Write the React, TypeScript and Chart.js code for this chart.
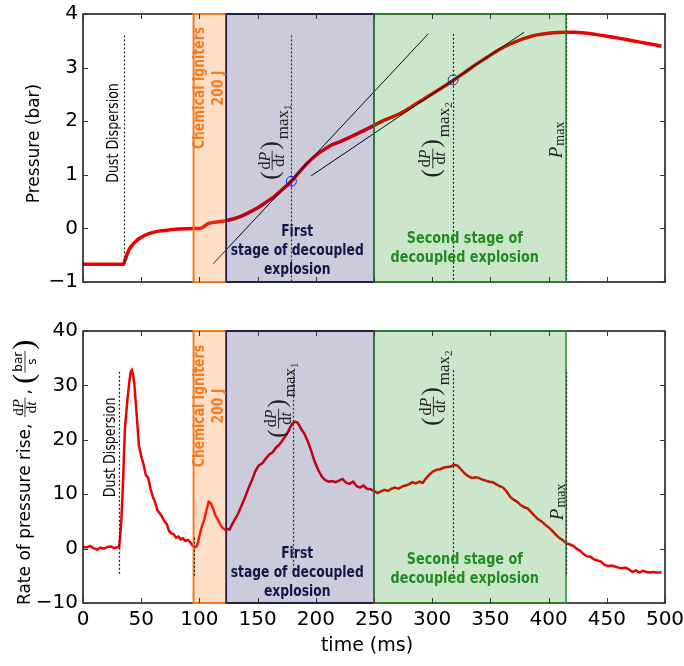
import React, { useEffect, useRef } from "react";
import { Chart, registerables } from "chart.js";

Chart.register(...registerables);

const SANS = "'DejaVu Sans', Verdana, sans-serif";
const SERIF = "'Liberation Serif', 'DejaVu Serif', serif";

// ---------- data ----------
const pressureTime = [
  0, 10, 20, 30, 34.7, 36, 39, 42, 45, 49, 55, 63, 70, 77, 85, 95, 100, 103, 106, 109,
  115, 122, 128, 135, 142, 149, 156, 164, 171, 179, 185, 192, 200, 207, 214, 222, 235, 248, 260, 272,
  283, 294, 306, 318, 328, 337, 347, 357, 368, 380, 390, 400, 408, 415, 422, 429, 440, 449, 460, 472,
  485, 497,
];
const pressureBar = [
  -0.67, -0.67, -0.67, -0.67, -0.67, -0.6, -0.42, -0.32, -0.25, -0.18, -0.11, -0.06, -0.04, -0.02, -0.01, 0.0, 0.0, 0.02, 0.07, 0.1,
  0.12, 0.14, 0.17, 0.22, 0.29, 0.37, 0.47, 0.59, 0.72, 0.88, 1.03, 1.2, 1.36, 1.47, 1.56, 1.63, 1.76, 1.9, 2.03, 2.14,
  2.28, 2.43, 2.59, 2.76, 2.91, 3.05, 3.19, 3.33, 3.45, 3.55, 3.61, 3.64, 3.655, 3.66, 3.66, 3.65, 3.62, 3.59, 3.55, 3.5,
  3.45, 3.4,
];

const rateTime = [
  0, 3, 6, 9, 12, 15, 18, 21, 24, 27,
  30, 31, 32, 33, 34, 36, 38, 40, 41, 42,
  43, 44, 46, 48, 50, 52, 54, 56, 58, 60,
  62, 64, 66, 68, 70, 72, 74, 76, 78, 80,
  82, 84, 86, 88, 90, 92, 94, 96, 98, 100,
  102, 104, 106, 108, 110, 112, 114, 116, 118, 120,
  122, 124, 126, 128, 130, 133, 136, 139, 142, 145,
  148, 151, 154, 157, 160, 163, 166, 169, 172, 175,
  178, 180, 182, 184, 186, 188, 190, 193, 196, 199,
  202, 205, 208, 211, 214, 217, 220, 223, 226, 229,
  232, 235, 238, 241, 244, 247, 250, 253, 256, 259,
  262, 265, 268, 271, 274, 277, 280, 283, 286, 289,
  292, 295, 298, 301, 304, 307, 310, 313, 316, 319,
  322, 325, 328, 331, 334, 337, 340, 343, 346, 349,
  352, 355, 358, 361, 364, 367, 370, 373, 376, 379,
  382, 385, 388, 391, 394, 397, 400, 403, 406, 409,
  412, 415, 418, 421, 424, 427, 430, 433, 436, 439,
  442, 445, 448, 451, 454, 457, 460, 463, 466, 469,
  472, 475, 478, 481, 484, 487, 490, 493, 497,
];
const rateValue = [
  0.3, 0.2, 0.5, 0.1, -0.2, 0.2, 0.0, 0.3, 0.4, 0.1,
  0.3, 0.2, 2.5, 5.5, 10, 22, 27, 31, 32.5, 32.8,
  32, 30.5, 25, 19, 17, 15.5, 13.5, 13, 11, 9.5,
  8.5, 7, 6.5, 5.8, 5, 4.5, 3.2, 2.8, 2.6, 2.0,
  2.2, 1.7, 1.9, 1.4, 1.6, 1.2, 0.6, 0.2, 0.5, 2.3,
  4, 5.2, 7, 8.6, 8.3, 7.2, 6, 5.3, 4.4, 3.8,
  3.5, 3.6, 3.5, 4.4, 5.2, 6.3, 7.8, 9.3, 11, 12.5,
  14.2, 15.3, 15.7, 16.5, 17.3, 17.7, 18.6, 19.2, 20.1, 21,
  22.3, 23, 23.3, 23.2, 22.6, 21.8, 21.2, 19.8, 18, 16,
  14.5, 13.3, 12.6, 12.3, 12.4, 12.2, 12.5, 12.8, 12.1, 11.9,
  12.3, 11.5, 11.2, 11.6, 11, 10.9, 10.6, 10.2, 10.5, 10.8,
  10.6, 11, 11.2, 11, 11.4, 11.6, 11.8, 12.2, 12, 12.3,
  12.1, 13, 13.7, 14.2, 14.5, 14.6, 14.9, 15.0, 15.1, 15.4,
  15.2, 14.5, 13.8, 13.3, 13.0, 13.1, 13.0, 12.7, 12.5, 12.3,
  12.2, 11.8, 11.5, 11.2, 10.5, 9.5, 9.0, 8.6, 8.0, 7.6,
  7.4, 6.7, 6.0, 5.4, 5.0, 4.4, 3.9, 3.3, 2.6, 2.0,
  1.6, 1.0, 0.8, 0.5, 0.0, -0.4, -1.0, -1.4, -1.5, -2.0,
  -2.2, -2.4, -3.0, -3.2, -3.1, -3.3, -3.5, -3.6, -3.5, -3.8,
  -4.3, -4.0, -4.4, -4.1, -4.3, -4.4, -4.3, -4.4, -4.4,
];

// tangent lines and max-rate points on the pressure curve
const tangent1Time = [111.8, 296.6];
const tangent1Bar = [-0.66, 3.63];
const tangent2Time = [196, 379];
const tangent2Bar = [0.98, 3.66];
const maxRateTime = [179, 318];
const maxRateBar = [0.88, 2.77];

// stages
const stageStart = [95, 123, 250];
const stageEnd = [123, 250, 415];
const stageFill = ["rgba(255,127,42,0.26)", "rgba(20,20,90,0.22)", "rgba(0,128,0,0.2)"];
const stageEdge = ["#f37a1f", "#16164a", "#2a8a2a"];
const stageEdgeWidth = [2, 1.5, 1.5];

// vertical marker lines
const topMarkerTime = [35, 179, 318, 415];
const topMarkerFrom = [3.6, 3.6, 3.63, 4];
const topMarkerTo = [-0.67, -1, -1, -1];
const topMarkerColor = ["#222", "#333", "#222", "#145214"];
const bottomMarkerTime = [31, 95, 180, 318, 415];
const bottomMarkerFrom = [32.5, 2, 32.5, 32.8, 32.5];
const bottomMarkerTo = [-5, -5, -5, -5, -5];
const bottomMarkerColor = ["#222", "#222", "#333", "#222", "#222"];

// ticks
const xTickValues = [0, 50, 100, 150, 200, 250, 300, 350, 400, 450, 500];
const pressureTickValues = [-1, 0, 1, 2, 3, 4];
const rateTickValues = [-10, 0, 10, 20, 30, 40];

// ---------- drawing helpers ----------
type Piece = [string, string];

function measurePieces(ctx: CanvasRenderingContext2D, pieces: Piece[]) {
  let w = 0;
  for (const [t, f] of pieces) {
    ctx.font = f;
    w += ctx.measureText(t).width;
  }
  return w;
}
function drawPieces(ctx: CanvasRenderingContext2D, pieces: Piece[], x: number, y: number) {
  for (const [t, f] of pieces) {
    ctx.font = f;
    ctx.fillText(t, x, y);
    x += ctx.measureText(t).width;
  }
  return x;
}

type TextLabel = {
  lines: string[];
  x: number;
  y: number;
  font: string;
  color: string;
  squeeze: number;
  rotate: boolean;
  gap: number;
};

function drawTextLabel(ctx: CanvasRenderingContext2D, l: TextLabel, px: number, py: number) {
  ctx.save();
  ctx.translate(px, py);
  if (l.rotate) ctx.rotate(-Math.PI / 2);
  ctx.scale(l.squeeze, 1);
  ctx.font = l.font;
  ctx.fillStyle = l.color;
  ctx.textAlign = "center";
  ctx.textBaseline = "middle";
  const n = l.lines.length;
  l.lines.forEach((s, i) => ctx.fillText(s, 0, (i - (n - 1) / 2) * l.gap));
  ctx.restore();
}

function drawRateMax(ctx: CanvasRenderingContext2D, cx: number, cy: number, sub: string) {
  ctx.save();
  ctx.translate(cx, cy);
  ctx.rotate(-Math.PI / 2);
  ctx.fillStyle = "#222";
  ctx.strokeStyle = "#222";
  ctx.textAlign = "left";
  ctx.textBaseline = "alphabetic";
  const pf = `25px ${SERIF}`;
  const ff = `16px ${SERIF}`;
  const fi = `italic 16px ${SERIF}`;
  const mf = `17px ${SERIF}`;
  const sf = `11px ${SERIF}`;
  const num: Piece[] = [["d", ff], ["P", fi]];
  const den: Piece[] = [["d", ff], ["t", fi]];
  ctx.font = pf;
  const pw = ctx.measureText("(").width;
  const nw = measurePieces(ctx, num);
  const dw = measurePieces(ctx, den);
  const fw = Math.max(nw, dw) + 4;
  ctx.font = mf;
  const mw = ctx.measureText("max").width;
  ctx.font = sf;
  const sw = ctx.measureText(sub).width;
  const total = pw + fw + pw + 2 + mw + sw;
  let x = -total / 2;
  ctx.font = pf;
  ctx.fillText("(", x, 6);
  x += pw;
  ctx.lineWidth = 0.9;
  ctx.beginPath();
  ctx.moveTo(x + 1, 0);
  ctx.lineTo(x + fw - 1, 0);
  ctx.stroke();
  drawPieces(ctx, num, x + (fw - nw) / 2, -2.5);
  drawPieces(ctx, den, x + (fw - dw) / 2, 12);
  x += fw;
  ctx.font = pf;
  ctx.fillText(")", x, 6);
  x += pw + 2;
  ctx.font = mf;
  ctx.fillText("max", x, 16);
  x += mw;
  ctx.font = sf;
  ctx.fillText(sub, x, 19);
  ctx.restore();
}

function drawPmax(ctx: CanvasRenderingContext2D, cx: number, cy: number) {
  ctx.save();
  ctx.translate(cx, cy);
  ctx.rotate(-Math.PI / 2);
  ctx.fillStyle = "#222";
  ctx.textAlign = "left";
  ctx.textBaseline = "alphabetic";
  const pieces: Piece[] = [["P", `italic 19px ${SERIF}`]];
  const pw = measurePieces(ctx, pieces);
  ctx.font = `14px ${SERIF}`;
  const mw = ctx.measureText("max").width;
  const total = pw + 1 + mw;
  let x = -total / 2;
  drawPieces(ctx, pieces, x, 6);
  x += pw + 1;
  ctx.font = `14px ${SERIF}`;
  ctx.fillText("max", x, 8);
  ctx.restore();
}

function drawRotTitle(ctx: CanvasRenderingContext2D, text: string, cx: number, cy: number, size: number) {
  ctx.save();
  ctx.translate(cx, cy);
  ctx.rotate(-Math.PI / 2);
  ctx.font = `${size}px ${SANS}`;
  ctx.fillStyle = "#000";
  ctx.textAlign = "center";
  ctx.textBaseline = "middle";
  ctx.fillText(text, 0, 0);
  ctx.restore();
}

function drawRateTitle(ctx: CanvasRenderingContext2D, baseX: number, startY: number) {
  ctx.save();
  ctx.translate(baseX, startY);
  ctx.rotate(-Math.PI / 2);
  ctx.fillStyle = "#000";
  ctx.strokeStyle = "#000";
  ctx.textAlign = "left";
  ctx.textBaseline = "alphabetic";
  ctx.font = `17px ${SANS}`;
  const main = "Rate of pressure rise, ";
  ctx.fillText(main, 0, 0);
  let x = ctx.measureText(main).width + 1;
  const ff = `15px ${SERIF}`;
  const fi = `italic 15px ${SERIF}`;
  const num: Piece[] = [["d", ff], ["P", fi]];
  const den: Piece[] = [["d", ff], ["t", fi]];
  const nw = measurePieces(ctx, num);
  const dw = measurePieces(ctx, den);
  const fw = Math.max(nw, dw) + 3;
  const axis = -5;
  ctx.lineWidth = 0.8;
  ctx.beginPath();
  ctx.moveTo(x, axis);
  ctx.lineTo(x + fw, axis);
  ctx.stroke();
  drawPieces(ctx, num, x + (fw - nw) / 2, axis - 2.5);
  drawPieces(ctx, den, x + (fw - dw) / 2, axis + 11);
  x += fw + 3;
  ctx.font = `17px ${SANS}`;
  ctx.fillText(",", x, 0);
  x += ctx.measureText(", ").width;
  ctx.font = `30px ${SERIF}`;
  ctx.fillText("(", x, 3);
  x += ctx.measureText("(").width + 1;
  ctx.font = `12px ${SANS}`;
  const bw = ctx.measureText("bar").width;
  const sw = ctx.measureText("s").width;
  ctx.beginPath();
  ctx.moveTo(x, axis);
  ctx.lineTo(x + bw + 2, axis);
  ctx.stroke();
  ctx.fillText("bar", x + 1, axis - 3);
  ctx.fillText("s", x + 1 + (bw - sw) / 2, axis + 11);
  x += bw + 3;
  ctx.font = `30px ${SERIF}`;
  ctx.fillText(")", x, 3);
  ctx.restore();
}

type Spec = {
  name: string;
  markerTime: number[];
  markerFrom: number[];
  markerTo: number[];
  markerColor: string[];
  yTicks: number[];
  labels: TextLabel[];
  maths: { x: number; y: number; sub: string }[];
  pmax: { x: number; y: number };
  titles: (ctx: CanvasRenderingContext2D, chart: any) => void;
};

function makeOverlay(spec: Spec) {
  return {
    id: "overlay-" + spec.name,
    afterDatasetsDraw(chart: any) {
      const ctx: CanvasRenderingContext2D = chart.ctx;
      const a = chart.chartArea;
      const xs = chart.scales.x;
      const ys = chart.scales.y;
      const X = (v: number) => xs.getPixelForValue(v);
      const Y = (v: number) => ys.getPixelForValue(v);
      const H = a.bottom - a.top;
      ctx.save();
      // frame
      ctx.lineWidth = 1.5;
      ctx.strokeStyle = "#111";
      ctx.strokeRect(a.left, a.top, a.right - a.left, H);
      // stages
      for (let i = 0; i < stageStart.length; i++) {
        const x0 = X(stageStart[i]);
        const x1 = X(stageEnd[i]);
        ctx.fillStyle = stageFill[i];
        ctx.fillRect(x0, a.top, x1 - x0, H);
      }
      for (let i = 0; i < stageStart.length; i++) {
        const x0 = X(stageStart[i]);
        const x1 = X(stageEnd[i]);
        ctx.strokeStyle = stageEdge[i];
        ctx.lineWidth = stageEdgeWidth[i];
        ctx.strokeRect(x0, a.top, x1 - x0, H);
      }
      // marker lines
      ctx.lineWidth = 1.2;
      ctx.setLineDash([2, 2]);
      spec.markerTime.forEach((t, i) => {
        const x = Math.round(X(t)) + 0.5;
        ctx.strokeStyle = spec.markerColor[i];
        ctx.beginPath();
        ctx.moveTo(x, Y(spec.markerFrom[i]));
        ctx.lineTo(x, Y(spec.markerTo[i]));
        ctx.stroke();
      });
      ctx.setLineDash([]);
      // inward ticks
      ctx.strokeStyle = "#333";
      ctx.lineWidth = 1;
      ctx.beginPath();
      xTickValues.forEach((v) => {
        const x = Math.round(X(v)) + 0.5;
        ctx.moveTo(x, a.bottom);
        ctx.lineTo(x, a.bottom - 5);
        ctx.moveTo(x, a.top);
        ctx.lineTo(x, a.top + 5);
      });
      spec.yTicks.forEach((v) => {
        const y = Math.round(Y(v)) + 0.5;
        ctx.moveTo(a.left, y);
        ctx.lineTo(a.left + 5, y);
        ctx.moveTo(a.right, y);
        ctx.lineTo(a.right - 5, y);
      });
      ctx.stroke();
      // labels
      spec.labels.forEach((l) => drawTextLabel(ctx, l, X(l.x), Y(l.y)));
      spec.maths.forEach((m) => drawRateMax(ctx, X(m.x), Y(m.y), m.sub));
      drawPmax(ctx, X(spec.pmax.x), Y(spec.pmax.y));
      spec.titles(ctx, chart);
      ctx.restore();
    },
  };
}

const minusFmt = (v: any) => (Number(v) < 0 ? "\u2212" + Math.abs(Number(v)) : String(v));

function stageLabels(yDust: number, yIgn: number, yFirst: number, ySecond: number, xDust: number): TextLabel[] {
  return [
    { lines: ["Dust Dispersion"], x: xDust, y: yDust, font: `15px ${SANS}`, color: "#000", squeeze: 0.84, rotate: true, gap: 0 },
    { lines: ["Chemical Igniters", "200 J"], x: 108.5, y: yIgn, font: `bold 15.5px ${SANS}`, color: "#f47b20", squeeze: 0.8, rotate: true, gap: 19 },
    { lines: ["First", "stage of decoupled", "explosion"], x: 184, y: yFirst, font: `bold 16px ${SANS}`, color: "#141446", squeeze: 0.77, rotate: false, gap: 19 },
    { lines: ["Second stage of", "decoupled explosion"], x: 328, y: ySecond, font: `bold 16px ${SANS}`, color: "#1e8c1e", squeeze: 0.8, rotate: false, gap: 19 },
  ];
}

function baseScales(yMin: number, yMax: number, yStep: number, showX: boolean, xHeight: number) {
  return {
    x: {
      type: "linear",
      min: 0,
      max: 500,
      grid: { display: false, drawTicks: false },
      border: { display: false },
      ticks: {
        display: showX,
        stepSize: 50,
        autoSkip: false,
        maxRotation: 0,
        padding: 5,
        color: "#000",
        font: { family: SANS, size: 20 },
      },
      afterFit: (s: any) => {
        s.height = xHeight;
        s.paddingLeft = 0;
        s.paddingRight = 0;
      },
    },
    y: {
      min: yMin,
      max: yMax,
      grid: { display: false, drawTicks: false },
      border: { display: false },
      ticks: {
        stepSize: yStep,
        padding: 5,
        color: "#000",
        font: { family: SANS, size: 20 },
        callback: minusFmt,
      },
      afterFit: (s: any) => {
        s.width = 83;
        s.paddingTop = 0;
        s.paddingBottom = 0;
      },
    },
  };
}

function topConfig(): any {
  const spec: Spec = {
    name: "top",
    markerTime: topMarkerTime,
    markerFrom: topMarkerFrom,
    markerTo: topMarkerTo,
    markerColor: topMarkerColor,
    yTicks: pressureTickValues,
    labels: stageLabels(1.78, 2.62, -0.42, -0.375, 26.7),
    maths: [
      { x: 162.5, y: 1.61, sub: "1" },
      { x: 300.5, y: 1.65, sub: "2" },
    ],
    pmax: { x: 406.7, y: 1.65 },
    titles: (ctx) => drawRotTitle(ctx, "Pressure (bar)", 35, 143.5, 17),
  };
  return {
    type: "line",
    data: {
      datasets: [
        {
          data: maxRateTime.map((t, i) => ({ x: t, y: maxRateBar[i] })),
          showLine: false,
          pointRadius: 5,
          pointBorderWidth: 1,
          pointBorderColor: "#1a1aff",
          pointBackgroundColor: "rgba(0,0,0,0)",
        },
        {
          data: tangent1Time.map((t, i) => ({ x: t, y: tangent1Bar[i] })),
          borderColor: "#000",
          borderWidth: 1,
          pointRadius: 0,
        },
        {
          data: tangent2Time.map((t, i) => ({ x: t, y: tangent2Bar[i] })),
          borderColor: "#000",
          borderWidth: 1,
          pointRadius: 0,
        },
        {
          data: pressureTime.map((t, i) => ({ x: t, y: pressureBar[i] })),
          borderColor: "#ee0000",
          borderWidth: 3.5,
          pointRadius: 0,
          cubicInterpolationMode: "monotone",
        },
      ],
    },
    options: {
      responsive: false,
      animation: false,
      devicePixelRatio: 1,
      events: [],
      layout: { autoPadding: false, padding: { top: 14, right: 19, bottom: 0, left: 0 } },
      plugins: { legend: { display: false }, tooltip: { enabled: false } },
      scales: baseScales(-1, 4, 1, false, 18),
    },
    plugins: [makeOverlay(spec)],
  };
}

function bottomConfig(): any {
  const spec: Spec = {
    name: "bottom",
    markerTime: bottomMarkerTime,
    markerFrom: bottomMarkerFrom,
    markerTo: bottomMarkerTo,
    markerColor: bottomMarkerColor,
    yTicks: rateTickValues,
    labels: stageLabels(18.6, 26.2, -4.5, -3.85, 24),
    maths: [
      { x: 168, y: 27.3, sub: "1" },
      { x: 301, y: 29.5, sub: "2" },
    ],
    pmax: { x: 407.6, y: 8.6 },
    titles: (ctx) => {
      drawRateTitle(ctx, 30, 305);
      ctx.save();
      ctx.font = `19px ${SANS}`;
      ctx.fillStyle = "#000";
      ctx.textAlign = "center";
      ctx.textBaseline = "middle";
      ctx.fillText("time (ms)", 367, 346);
      ctx.restore();
    },
  };
  return {
    type: "line",
    data: {
      datasets: [
        {
          data: rateTime.map((t, i) => ({ x: t, y: rateValue[i] })),
          borderColor: "#ee0000",
          borderWidth: 2.5,
          pointRadius: 0,
          tension: 0,
        },
      ],
    },
    options: {
      responsive: false,
      animation: false,
      devicePixelRatio: 1,
      events: [],
      layout: { autoPadding: false, padding: { top: 31, right: 19, bottom: 0, left: 0 } },
      plugins: { legend: { display: false }, tooltip: { enabled: false } },
      scales: baseScales(-10, 40, 10, true, 63),
    },
    plugins: [makeOverlay(spec)],
  };
}

export default function App() {
  const topRef = useRef<HTMLCanvasElement>(null);
  const botRef = useRef<HTMLCanvasElement>(null);
  useEffect(() => {
    const c1 = new Chart(topRef.current as HTMLCanvasElement, topConfig());
    const c2 = new Chart(botRef.current as HTMLCanvasElement, bottomConfig());
    return () => {
      c1.destroy();
      c2.destroy();
    };
  }, []);
  return (
    <div style={{ position: "fixed", left: 0, top: 0, width: 684, height: 666, background: "#fff" }}>
      <canvas ref={topRef} width={684} height={300} style={{ position: "absolute", left: 0, top: 0 }} />
      <canvas ref={botRef} width={684} height={366} style={{ position: "absolute", left: 0, top: 300 }} />
    </div>
  );
}
